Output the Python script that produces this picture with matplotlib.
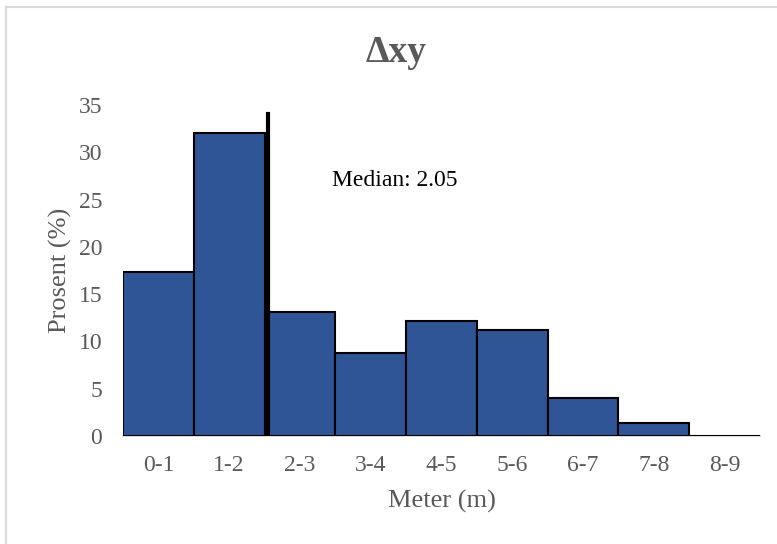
import numpy as np
import matplotlib.pyplot as plt
from matplotlib.patches import Rectangle

categories = ["0-1", "1-2", "2-3", "3-4", "4-5", "5-6", "6-7", "7-8", "8-9"]
percent = [17.3, 32.0, 13.1, 8.8, 12.2, 11.2, 4.0, 1.4, 0.05]
median = 2.05
median_label = "Median: 2.05"

plt.rcParams['font.family'] = ['Liberation Serif', 'DejaVu Serif']
text_col = '#595959'

fig = plt.figure(figsize=(7.77, 5.44), dpi=100)
fig.patches.append(Rectangle((6/777, -0.1), 1.2, 1.1 - 7.5/544, transform=fig.transFigure,
                             fill=False, edgecolor='#d9d9d9', lw=1.5))
ax = fig.add_axes([123/777, 108/544, 637/777, 331/544])

x = np.arange(len(categories))
ax.bar(x + 0.5, percent, width=1.0, color='#2f5597', edgecolor='black', linewidth=1.5, zorder=2)
ax.plot([median, median], [0, 34.0], color='black', lw=3, zorder=3)
ax.text(2.95, 27, median_label, fontsize=17, color='black', va='center', ha='left')

ax.set_xlim(0, 9)
ax.set_ylim(0, 35)
ax.set_xticks(x + 0.5)
ax.set_xticklabels(categories)
ax.set_yticks(np.arange(0, 36, 5))
ax.tick_params(length=0, labelsize=17, labelcolor=text_col)
ax.tick_params(axis='x', pad=14)
ax.tick_params(axis='y', pad=15)
for s in ['top', 'right', 'left']:
    ax.spines[s].set_visible(False)
ax.spines['bottom'].set_color('#d9d9d9')
ax.spines['bottom'].set_linewidth(1.5)
ax.spines['bottom'].set_zorder(1)

ax.set_xlabel("Meter (m)", fontsize=19, color=text_col, labelpad=10)
ax.set_ylabel("Prosent (%)", fontsize=19, color=text_col, labelpad=5)
fig.text(396/777, 1 - 53/544, "Δxy", fontsize=27, fontweight='bold', color=text_col,
         ha='center', va='center')

fig.savefig("out.png", dpi=100)
